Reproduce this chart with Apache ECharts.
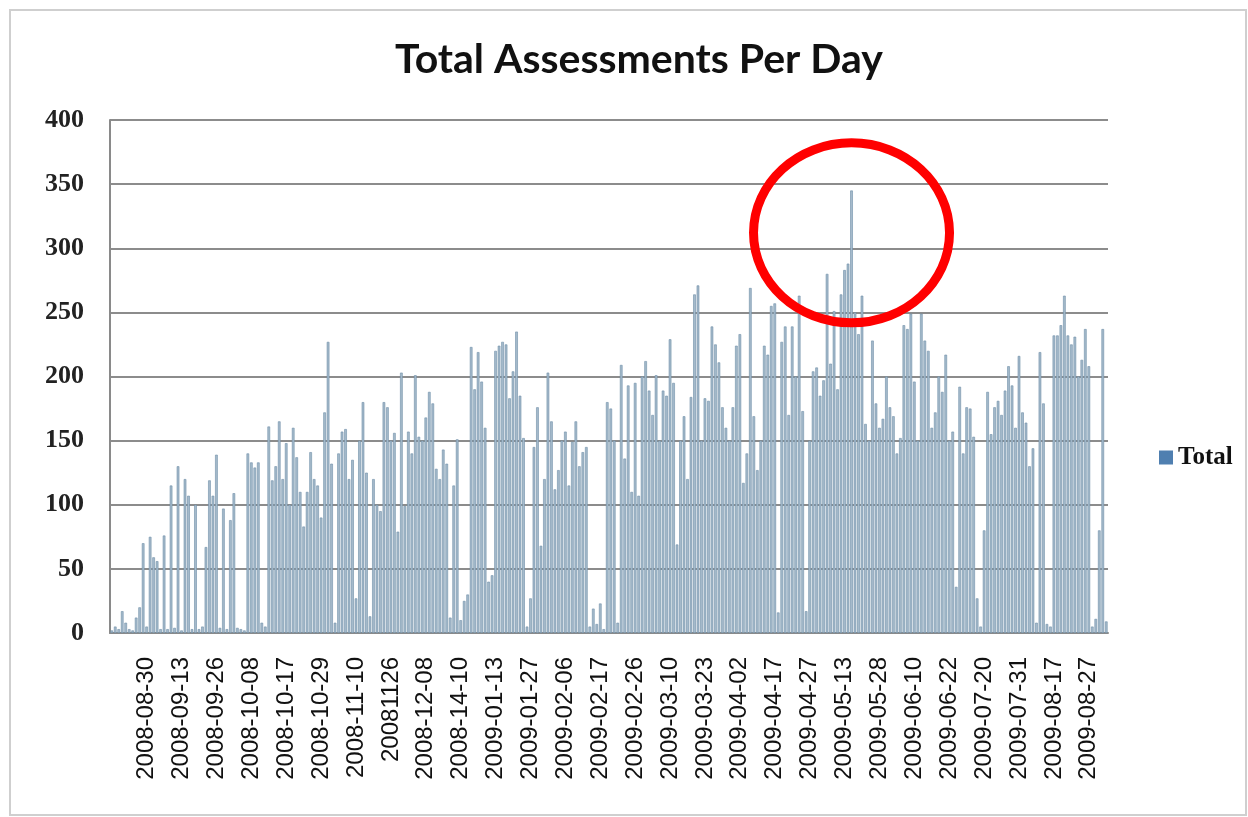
<!DOCTYPE html>
<html>
<head>
<meta charset="utf-8">
<title>Total Assessments Per Day</title>
<script src="https://cdn.jsdelivr.net/npm/echarts@6/dist/echarts.min.js"></script>
<style>
    html, body { margin: 0; padding: 0; background: #fff; }
    #main { width: 1248px; height: 817px; }
</style>
</head>
<body>
<div id="main"></div>
<script>
// daily totals (one bar per day that has data)
var totals = [
    2, 5, 3, 17, 8, 3, 2, 12, 20, 70,
    5, 75, 59, 56, 3, 76, 3, 115, 4, 130,
    2, 120, 107, 3, 100, 3, 5, 67, 119, 107,
    139, 4, 97, 3, 88, 109, 4, 3, 2, 140,
    133, 129, 133, 8, 5, 161, 119, 130, 165, 120,
    148, 100, 160, 137, 110, 83, 110, 141, 120, 115,
    90, 172, 227, 132, 8, 140, 157, 159, 120, 135,
    27, 150, 180, 125, 13, 120, 100, 95, 180, 176,
    150, 156, 79, 203, 99, 157, 140, 201, 153, 150,
    168, 188, 179, 128, 120, 143, 132, 12, 115, 151,
    10, 25, 30, 223, 190, 219, 196, 160, 40, 45,
    220, 224, 227, 225, 183, 204, 235, 185, 152, 5,
    27, 145, 176, 68, 120, 203, 165, 112, 127, 150,
    157, 115, 149, 165, 130, 141, 145, 5, 19, 7,
    23, 3, 180, 175, 150, 8, 209, 136, 193, 110,
    195, 107, 200, 212, 189, 170, 201, 150, 189, 185,
    229, 195, 69, 150, 169, 120, 184, 264, 271, 150,
    183, 181, 239, 225, 211, 176, 160, 150, 176, 224,
    233, 117, 140, 269, 169, 127, 150, 224, 217, 255,
    257, 16, 227, 239, 170, 239, 200, 263, 173, 17,
    150, 204, 207, 185, 197, 280, 210, 251, 190, 264,
    283, 288, 345, 250, 233, 263, 163, 150, 228, 179,
    160, 167, 200, 176, 169, 140, 152, 240, 237, 249,
    196, 150, 249, 228, 220, 160, 172, 200, 188, 217,
    150, 157, 36, 192, 140, 176, 175, 153, 27, 5,
    80, 188, 155, 176, 181, 170, 189, 208, 193, 160,
    216, 172, 164, 130, 144, 8, 219, 179, 7, 5,
    232, 232, 240, 263, 232, 225, 231, 200, 213, 237,
    208, 5, 11, 80, 237, 9
];
// labels shown under every 10th bar, as printed in the original
var tickLabels = [
    '2008-08-30', '2008-09-13', '2008-09-26', '2008-10-08', '2008-10-17',
    '2008-10-29', '2008-11-10', '20081126', '2008-12-08', '2008-14-10',
    '2009-01-13', '2009-01-27', '2009-02-06', '2009-02-17', '2009-02-26',
    '2009-03-10', '2009-03-23', '2009-04-02', '2009-04-17', '2009-04-27',
    '2009-05-13', '2009-05-28', '2009-06-10', '2009-06-22', '2009-07-20',
    '2009-07-31', '2009-08-17', '2009-08-27'
];
var labelStep = 10;
var yTicks = [0, 50, 100, 150, 200, 250, 300, 350, 400];

var categories = [];
for (var i = 0; i < totals.length; i++) {
    var k = i / labelStep - 1;
    if (i % labelStep === 0 && k >= 0 && k < tickLabels.length) {
        categories.push(tickLabels[k]);
    } else {
        categories.push('d' + i);
    }
}

var myChart = echarts.init(document.getElementById('main'));
var option = {
    backgroundColor: '#fff',
    animation: false,
    title: {
        text: 'Total Assessments Per Day',
        left: 390,
        top: 34,
        textStyle: {
            fontFamily: 'Lato',
            fontWeight: 'bold',
            fontSize: 41,
            color: '#111'
        }
    },
    legend: {
        left: 1154,
        top: 440,
        itemWidth: 14,
        itemHeight: 14,
        itemGap: 5,
        data: [{ name: 'Total', icon: 'rect', itemStyle: { color: '#4f7fb0', borderWidth: 0 } }],
        textStyle: {
            fontFamily: 'Liberation Serif',
            fontWeight: 'bold',
            fontSize: 25,
            color: '#111'
        }
    },
    grid: {
        left: 110,
        right: 140,
        top: 120,
        bottom: 184
    },
    xAxis: {
        type: 'category',
        data: categories,
        axisLine: { lineStyle: { color: '#8a8a8a', width: 2 } },
        axisTick: { interval: 0, length: 4, lineStyle: { color: '#9a9a9a' } },
        axisLabel: {
            rotate: 90,
            margin: 24,
            interval: function (index) {
                return index % labelStep === 0 && index >= labelStep;
            },
            fontFamily: 'Liberation Sans',
            fontSize: 24,
            color: '#111'
        }
    },
    yAxis: {
        type: 'value',
        min: yTicks[0],
        max: yTicks[yTicks.length - 1],
        interval: yTicks[1] - yTicks[0],
        axisLine: { show: true, lineStyle: { color: '#8a8a8a', width: 2 } },
        axisTick: { show: false },
        splitLine: { lineStyle: { color: '#8c8c8c', width: 2 } },
        axisLabel: {
            margin: 26,
            fontFamily: 'Liberation Serif',
            fontWeight: 'bold',
            fontSize: 26,
            color: '#222'
        }
    },
    series: [
        {
            name: 'Total',
            type: 'bar',
            data: totals,
            barCategoryGap: '25%',
            itemStyle: {
                color: '#a5bacb',
                borderColor: '#6f8ea8',
                borderWidth: 0.6
            }
        }
    ]
};
myChart.setOption(option);

// red ring drawn around the tallest day, plus the light frame of the chart
var peak = 0;
for (var j = 1; j < totals.length; j++) {
    if (totals[j] > totals[peak]) peak = j;
}
var c = myChart.convertToPixel({ seriesIndex: 0 }, [peak, 312]);
myChart.setOption({
    graphic: [
        {
            type: 'rect',
            shape: { x: 10, y: 10, width: 1236, height: 805 },
            style: { fill: 'none', stroke: '#cfcfcf', lineWidth: 2 },
            silent: true
        },
        {
            type: 'ellipse',
            shape: { cx: c[0], cy: c[1], rx: 98, ry: 90 },
            style: { fill: 'none', stroke: '#ff0000', lineWidth: 9 },
            z: 100
        }
    ]
});
</script>
</body>
</html>
